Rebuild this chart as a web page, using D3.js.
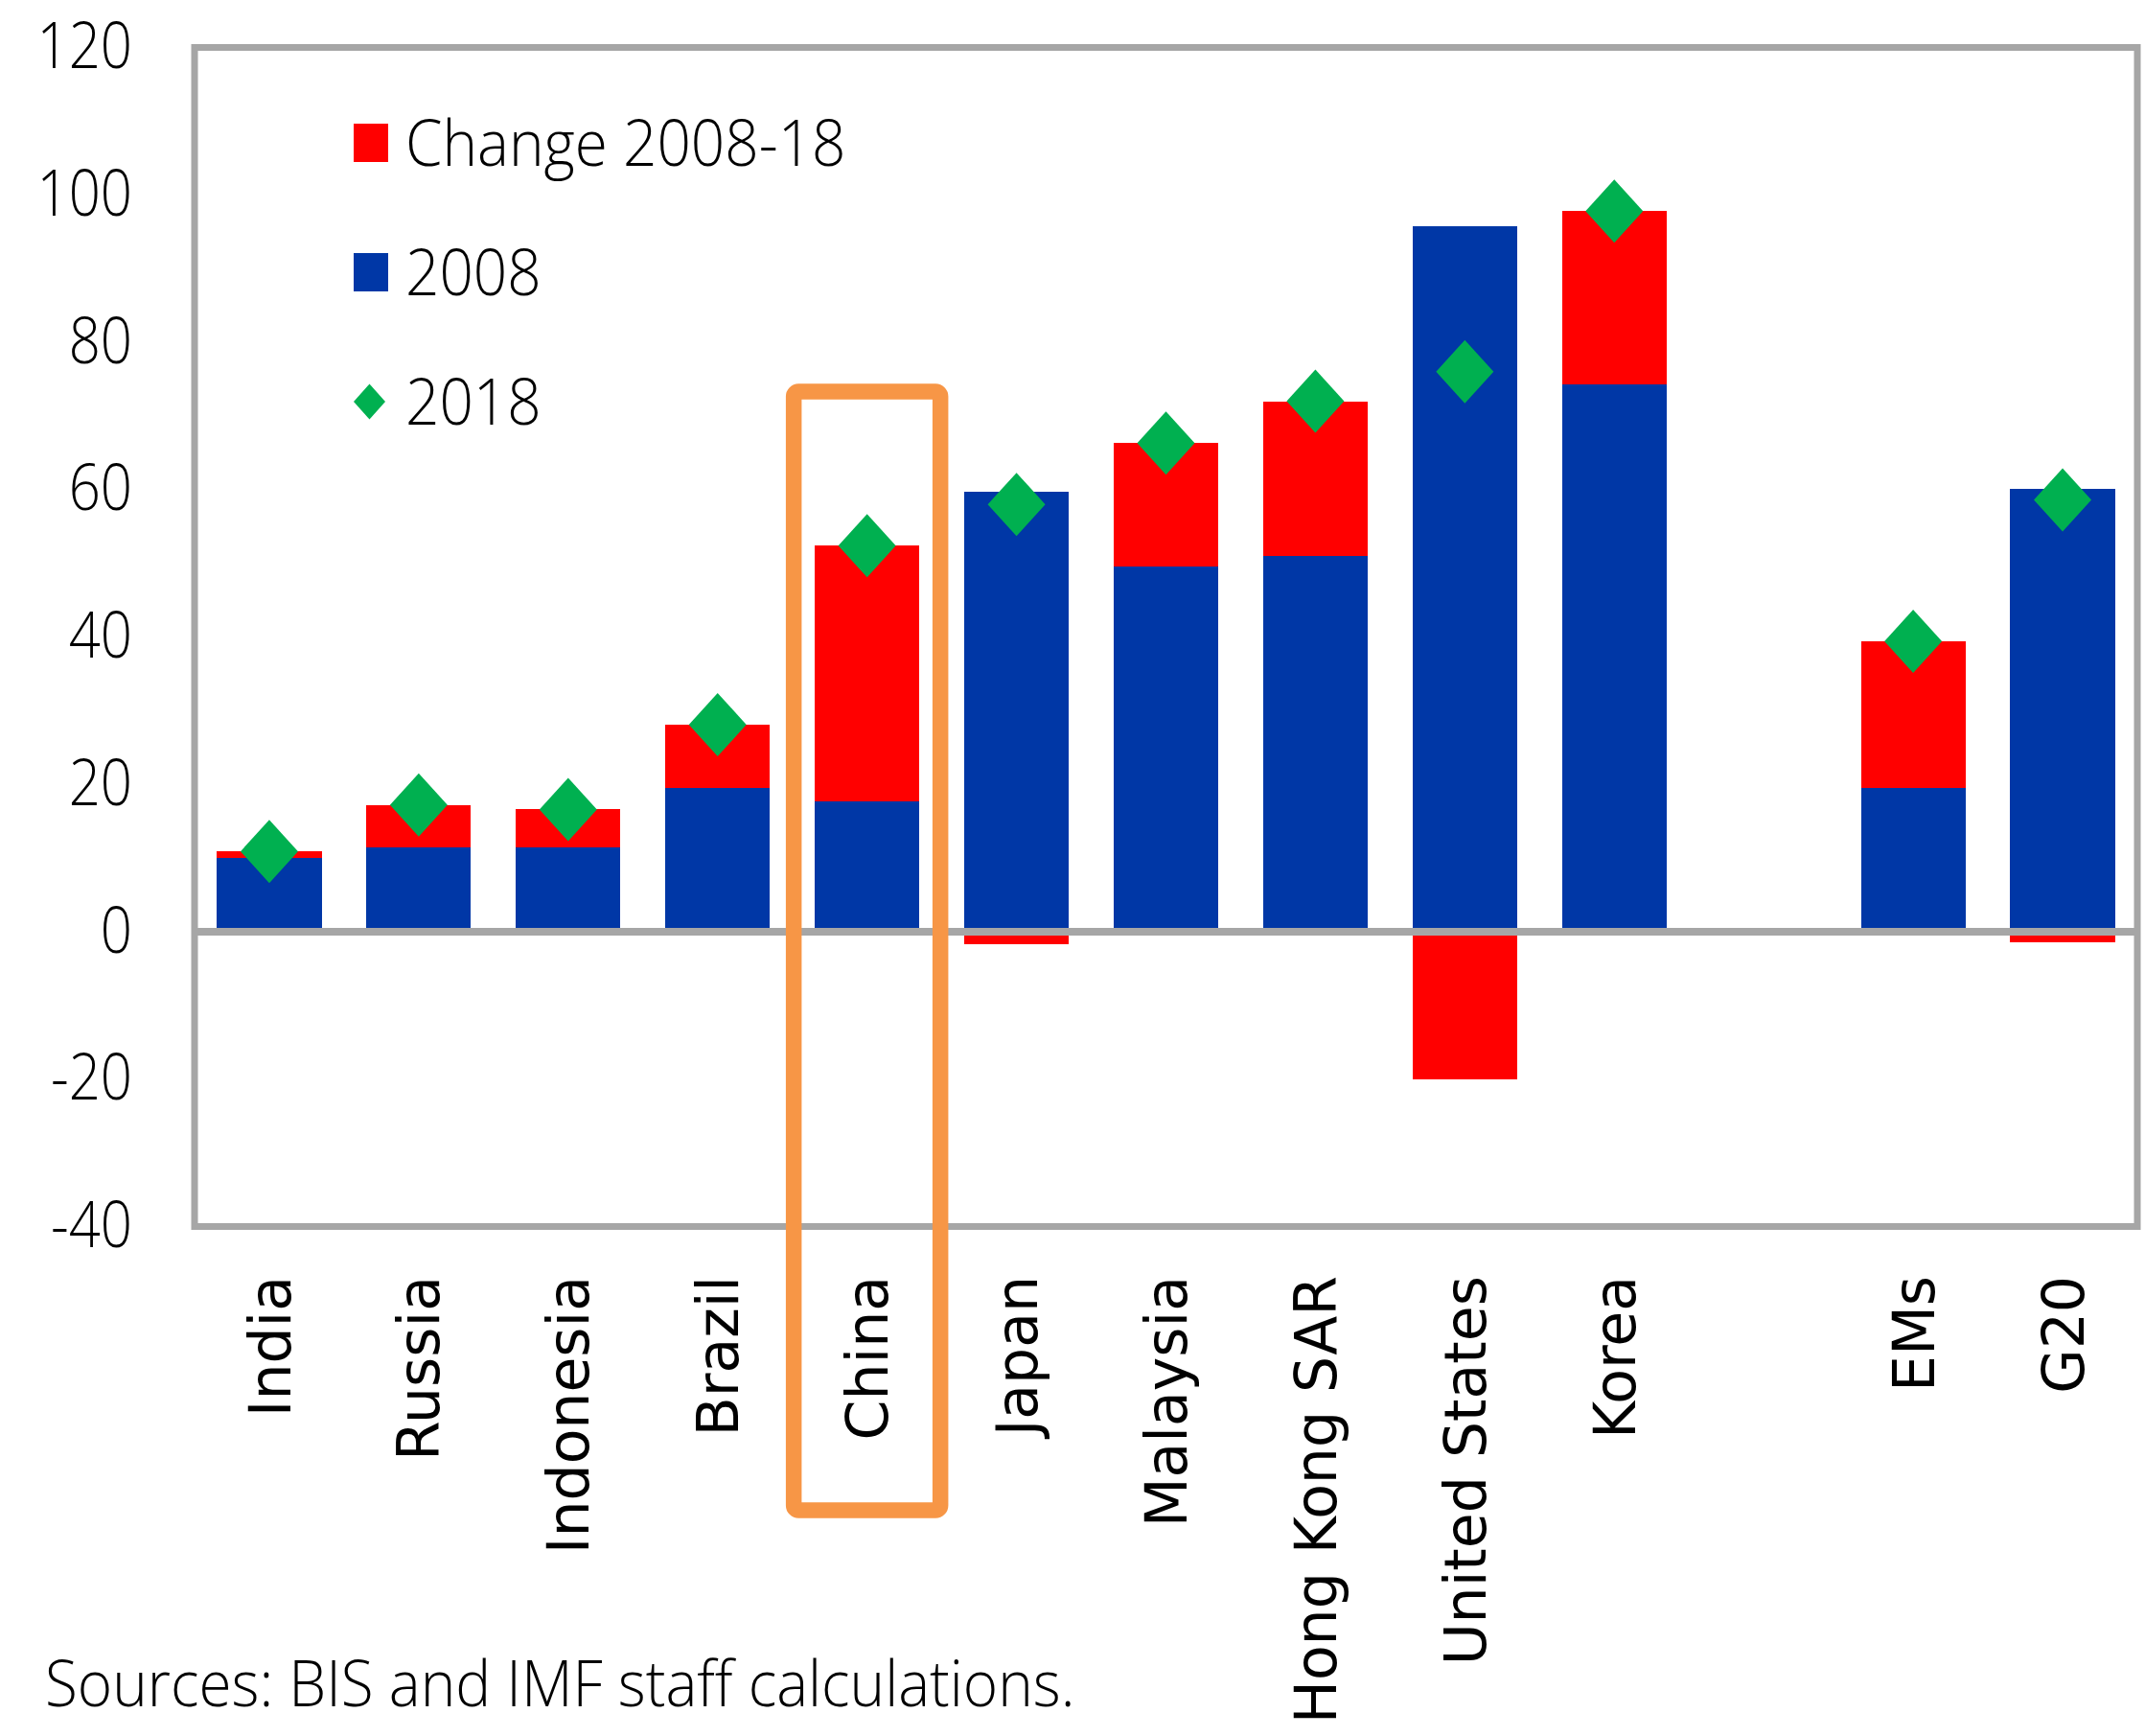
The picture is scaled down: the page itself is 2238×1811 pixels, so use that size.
<!DOCTYPE html>
<html lang="en">
  <head>
    <meta charset="utf-8">
    <title>Credit, 2008 and 2018</title>
    <style>
      body { margin: 0; background: #ffffff; }
      svg { display: block; background: #ffffff; }
      .tick-label, .legend-label, .source {
        font-family: 'Open Sans', sans-serif;
        font-size: 66px;
        font-weight: 300;
        fill: #000000;
      }
      .cat-label {
        font-family: 'DejaVu Sans', sans-serif;
        font-size: 60px;
        fill: #000000;
      }
    </style>
  </head>
  <body>
    <div id="chart"></div>
    <script src="https://d3js.org/d3.v7.min.js"></script>
    <script>
      // values
      const categories = ["India", "Russia", "Indonesia", "Brazil", "China", "Japan",
                          "Malaysia", "Hong Kong SAR", "United States", "Korea", "EMs", "G20"];
      const level2008  = [10.0, 11.4, 11.4, 19.5, 17.7, 59.7, 49.5, 51.0, 95.8, 74.3, 19.5, 60.1];
      const change0818 = [0.9, 5.8, 5.2, 8.6, 34.7, -1.7, 16.8, 21.0, -20.0, 23.5, 19.9, -1.4];
      const level2018  = [10.9, 17.2, 16.6, 28.1, 52.4, 58.0, 66.3, 72.0, 76.0, 97.8, 39.4, 58.6];
      const yTicks = [-40, -20, 0, 20, 40, 60, 80, 100, 120];
      const legendLabels = ["Change 2008-18", "2008", "2018"];
      const highlight = { category: "China", top: 73.3 };
      const sourceNote = "Sources: BIS and IMF staff calculations.";

      const width = 2238, height = 1811;
      const plot = { left: 203, right: 2230, top: 49.5, bottom: 1279.5 };
      const colors = { change: "#ff0000", base: "#0037a6", marker: "#00b050", frame: "#a6a6a6", box: "#f79646" };
      // horizontal text in the original is narrow
      const squeezeTicks = 0.88, squeezeText = 0.94;

      // blank slot between the countries and the aggregates
      const slots = [...categories.slice(0, 10), "gap", ...categories.slice(10)];

      const data = categories.map((c, i) => ({
        name: c, base: level2008[i], change: change0818[i], value: level2018[i]
      }));

      const svg = d3.select("#chart")
        .append("svg")
        .attr("width", width)
        .attr("height", height);

      const x = d3.scaleBand()
        .domain(slots)
        .range([plot.left, plot.right])
        .paddingInner(0.3)
        .paddingOuter(0.15);

      const y = d3.scaleLinear()
        .domain([-40, 120])
        .range([plot.bottom, plot.top]);

      // bars: 2008 level
      svg.append("g")
        .selectAll("rect")
        .data(data)
        .join("rect")
        .attr("x", d => x(d.name))
        .attr("width", x.bandwidth())
        .attr("y", d => y(d.base))
        .attr("height", d => y(0) - y(d.base))
        .attr("fill", colors.base)
        .attr("shape-rendering", "crispEdges");

      // bars: change, stacked on top if positive, below zero if negative
      svg.append("g")
        .selectAll("rect")
        .data(data)
        .join("rect")
        .attr("x", d => x(d.name))
        .attr("width", x.bandwidth())
        .attr("y", d => d.change >= 0 ? y(d.base + d.change) : y(0))
        .attr("height", d => Math.abs(y(0) - y(Math.abs(d.change))))
        .attr("fill", colors.change)
        .attr("shape-rendering", "crispEdges");

      // frame + zero line
      svg.append("rect")
        .attr("x", plot.left)
        .attr("y", plot.top)
        .attr("width", plot.right - plot.left)
        .attr("height", plot.bottom - plot.top)
        .attr("fill", "none")
        .attr("stroke", colors.frame)
        .attr("stroke-width", 7);

      svg.append("line")
        .attr("x1", plot.left)
        .attr("x2", plot.right)
        .attr("y1", y(0))
        .attr("y2", y(0))
        .attr("stroke", colors.frame)
        .attr("stroke-width", 8);

      // 2018 diamonds
      const diamond = (hw, hh) => `M0,${-hh}L${hw},0L0,${hh}L${-hw},0Z`;
      svg.append("g")
        .selectAll("path")
        .data(data)
        .join("path")
        .attr("d", diamond(30, 33))
        .attr("transform", d => `translate(${x(d.name) + x.bandwidth() / 2},${y(d.value)})`)
        .attr("fill", colors.marker);

      // y axis labels
      const yAxis = svg.append("g")
        .attr("transform", `translate(138,0)`)
        .call(d3.axisLeft(y).tickValues(yTicks).tickSize(0).tickPadding(0).tickFormat(d => String(d)))
        .attr("font-family", null)
        .attr("font-size", null);
      yAxis.select(".domain").remove();
      yAxis.selectAll(".tick text")
        .attr("class", "tick-label")
        .attr("dy", "0.32em")
        .attr("transform", `scale(${squeezeTicks},1)`);

      // category labels
      const xAxis = svg.append("g")
        .attr("transform", `translate(0,${plot.bottom})`)
        .call(d3.axisBottom(x).tickValues(categories).tickSize(0))
        .attr("font-family", null)
        .attr("font-size", null);
      xAxis.select(".domain").remove();
      xAxis.selectAll(".tick text")
        .attr("class", "cat-label")
        .attr("transform", "rotate(-90)")
        .attr("text-anchor", "end")
        .attr("x", -51.5)
        .attr("y", 0)
        .attr("dy", "0.36em");

      // highlight box around China
      const hx = x(highlight.category) + x.bandwidth() / 2;
      svg.append("rect")
        .attr("x", hx - 76.5)
        .attr("y", y(highlight.top))
        .attr("width", 153)
        .attr("height", plot.bottom + 296 - y(highlight.top))
        .attr("rx", 5)
        .attr("fill", "none")
        .attr("stroke", colors.box)
        .attr("stroke-width", 16.5);

      // legend
      const legend = svg.append("g").attr("transform", "translate(387,149)");
      const rows = legend.selectAll("g")
        .data(legendLabels)
        .join("g")
        .attr("transform", (d, i) => `translate(0,${i * 135})`);
      rows.filter((d, i) => i < 2)
        .append("rect")
        .attr("x", -18)
        .attr("y", -20)
        .attr("width", 36)
        .attr("height", 40)
        .attr("fill", (d, i) => i === 0 ? colors.change : colors.base);
      rows.filter((d, i) => i === 2)
        .append("path")
        .attr("d", diamond(16.5, 18.5))
        .attr("transform", "translate(-1.5,0)")
        .attr("fill", colors.marker);
      rows.append("g")
        .attr("transform", `translate(36,0) scale(${squeezeText},1)`)
        .append("text")
        .attr("class", "legend-label")
        .attr("dy", "0.36em")
        .text(d => d);

      // source
      svg.append("g")
        .attr("transform", `translate(47,1780) scale(${squeezeText},1)`)
        .append("text")
        .attr("class", "source")
        .text(sourceNote);
    </script>
  </body>
</html>
